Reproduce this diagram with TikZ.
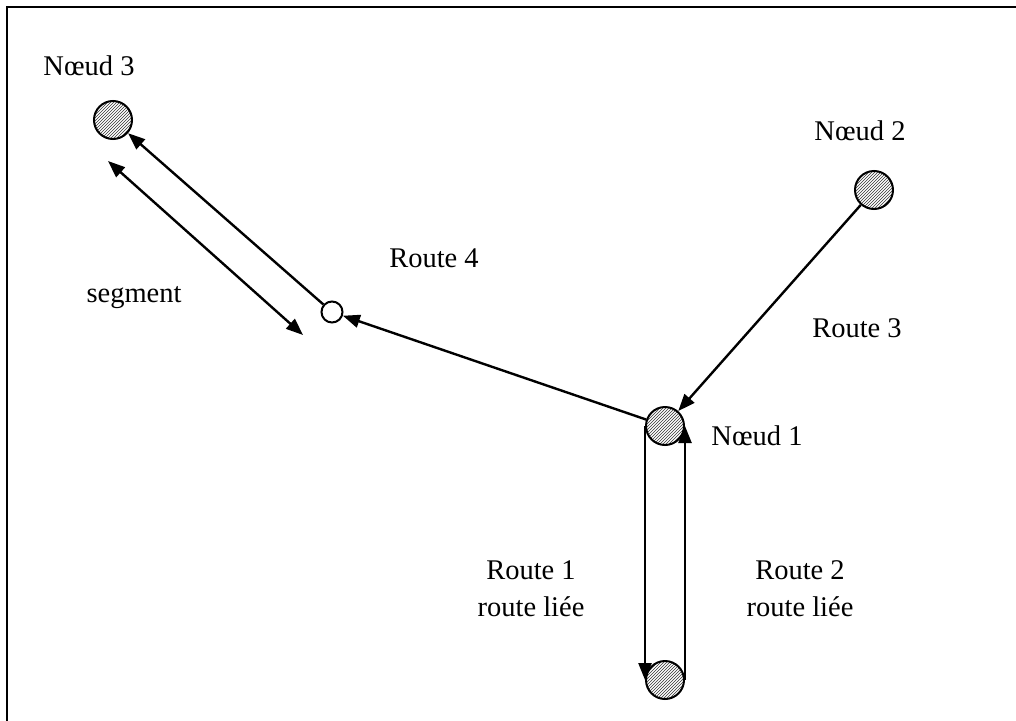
\documentclass[tikz,border=0pt]{standalone}
\usepackage{fontspec}
\setmainfont{Liberation Serif}
\usetikzlibrary{arrows.meta,patterns}
\begin{document}
\begin{tikzpicture}[x=1pt,y=-1pt,
  hub/.style={circle,draw,line width=2pt,minimum size=38pt,inner sep=0pt,
    pattern=north east lines,pattern color=black!80},
  pt/.style={circle,draw,line width=2pt,minimum size=21pt,inner sep=0pt,fill=white},
  arr/.style={line width=2.4pt,-{Triangle[length=17pt,width=13pt]}},
  arrs/.style={line width=2.4pt,{Triangle[length=17pt,width=13pt]}-{Triangle[length=17pt,width=13pt]}},
  lbl/.style={font=\fontsize{28.5}{37}\selectfont,align=center,inner sep=0pt}]
\clip (0,0) rectangle (1016,720);
\useasboundingbox (0,0) rectangle (1016,720);
\draw[line width=2pt] (7,7) rectangle (1040,740);
\node[hub] (n3) at (113,120) {};
\node[hub] (n2) at (874,190) {};
\node[hub] (n1) at (665,426) {};
\node[hub] (nb) at (665,680) {};
\node[pt] (sm) at (332,312) {};
\coordinate (s1) at (108,161);
\coordinate (s2) at (303,335);
\draw[arr] (n2) -- (n1);
\draw[arr] (n1) -- (sm);
\draw[arr] (sm) -- (n3);
\draw[arrs] (s1) -- (s2);
\draw[arr] (n1.west) -- (nb.west);
\draw[arr] (nb.east) -- (n1.east);
\node[lbl] (t3) at (89,66) {Nœud 3};
\node[lbl] (t2) at (860,131) {Nœud 2};
\node[lbl] (t1) at (757,436) {Nœud 1};
\node[lbl] (r4) at (434,258) {Route 4};
\node[lbl] (sg) at (134,298) {segment};
\node[lbl] (r3) at (857,328) {Route 3};
\node[lbl] (r1) at (531,589) {Route 1\\route liée};
\node[lbl] (r2) at (800,589) {Route 2\\route liée};
\end{tikzpicture}
\end{document}
